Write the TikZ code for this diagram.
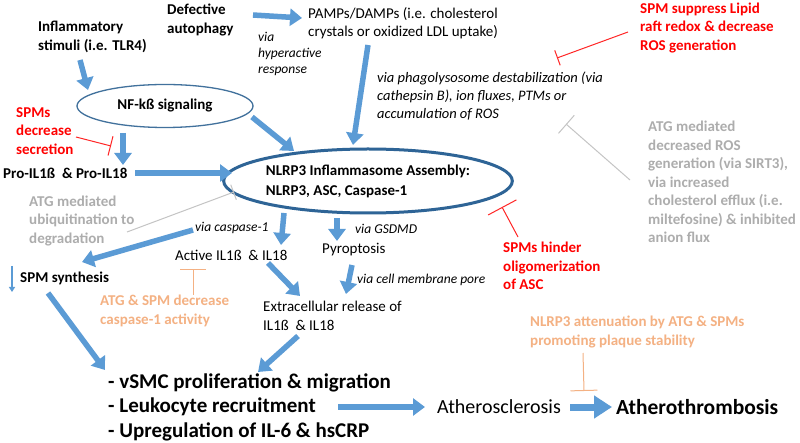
\documentclass[tikz,border=0pt]{standalone}
\usepackage{fontspec}
\setmainfont{Carlito}
\usetikzlibrary{arrows.meta,shapes.geometric,calc}
\definecolor{ablue}{HTML}{5B9BD5}
\definecolor{eblue}{HTML}{41719C}
\definecolor{dblue}{HTML}{2E6496}
\definecolor{ared}{HTML}{FF0000}
\definecolor{agray}{HTML}{ADADAD}
\definecolor{lgray}{HTML}{C4C4C4}
\definecolor{aorange}{HTML}{F4B183}
\tikzset{
  txt/.style={inner sep=0pt, align=left, anchor=west, font=\fontsize{15}{18.5}\selectfont},
  btxt/.style={txt, font=\fontsize{15}{18.5}\selectfont\bfseries},
  itxt/.style={txt, font=\fontsize{13.5}{16}\selectfont\itshape},
  barrow/.style={draw=ablue, line width=5.5pt, -{Triangle[length=12pt,width=17pt]}},
  bigarrow/.style={draw=ablue, line width=7pt, -{Triangle[length=18pt,width=22pt]}},
  thinarrow/.style={draw=ablue, line width=1.5pt, -{Triangle[length=5pt,width=6pt]}},
  inhib/.style={line width=1pt, -{Bar[width=#1]}},
}
\begin{document}
\begin{tikzpicture}[x=1pt,y=-1pt]
\useasboundingbox[fill=white] (0,0) rectangle (800,443);
% text nodes
\node[btxt] (infl) at (38,37) {Inflammatory\\stimuli (i.e. TLR4)};
\node[btxt] (defect) at (167,20) {Defective\\autophagy};
\node[txt] (pamps) at (308,23) {PAMPs/DAMPs (i.e. cholesterol\\crystals or oxidized LDL uptake)};
\node[itxt] (viahyp) at (258,54) {via\\hyperactive\\response};
\node[itxt, font=\fontsize{14.5}{18}\selectfont\itshape] (viaphago) at (377,96) {via phagolysosome destabilization (via\\cathepsin B), ion fluxes, PTMs or\\accumulation of ROS};
\node[btxt, text=ared] (spmlipid) at (640,28) {SPM suppress Lipid\\raft redox \& decrease\\ROS generation};
\node[btxt, text=agray] (atgros) at (648,182) {ATG mediated\\decreased ROS\\generation (via SIRT3),\\via increased\\cholesterol efflux (i.e.\\miltefosine) \& inhibited\\anion flux};
\node[ellipse, draw=eblue, line width=1.3pt, minimum width=176pt, minimum height=43pt, inner sep=0pt, font=\fontsize{15}{18}\selectfont\bfseries] (nfkb) at (165,106) {NF-kß signaling};
\node[ellipse, draw=dblue, line width=3pt, minimum width=270pt, minimum height=64pt, inner sep=0pt, align=left, font=\fontsize{15}{20}\selectfont\bfseries] (nlrp3) at (368,181) {NLRP3 Inflammasome Assembly:\\NLRP3, ASC, Caspase-1};
\node[btxt, text=ared] (spmsdec) at (16,131) {SPMs\\decrease\\secretion};
\node[btxt] (pro) at (3,173) {Pro-IL1ß\ \ \& Pro-IL18};
\node[btxt, text=agray] (atgubi) at (29,221) {ATG mediated\\ubiquitination to\\degradation};
\node[itxt] (viacasp) at (195,228) {via caspase-1};
\node[txt] (active) at (175,255) {Active IL1ß\ \ \& IL18};
\node[itxt] (viagsdmd) at (355,229) {via GSDMD};
\node[txt] (pyro) at (322,250) {Pyroptosis};
\node[itxt] (viapore) at (357,280) {via cell membrane pore};
\node[txt] (extra) at (263,316) {Extracellular release of\\IL1ß\ \ \& IL18};
\node[btxt] (spmsyn) at (20,278) {SPM synthesis};
\node[btxt, text=aorange] (atgcasp) at (100,311) {ATG \& SPM decrease\\caspase-1 activity};
\node[btxt, text=ared] (spmhinder) at (503,266) {SPMs hinder\\oligomerization\\of ASC};
\node[txt, font=\fontsize{21}{24.5}\selectfont\bfseries] (list) at (108,407) {- vSMC proliferation \& migration\\- Leukocyte recruitment\\- Upregulation of IL-6 \& hsCRP};
\node[txt, font=\fontsize{20}{22}\selectfont] (athero) at (437,407) {Atherosclerosis};
\node[txt, font=\fontsize{21.5}{24}\selectfont\bfseries] (thromb) at (616,407) {Atherothrombosis};
\node[btxt, text=aorange] (nlrp3att) at (530,332) {NLRP3 attenuation by ATG \& SPMs\\promoting plaque stability};
% blue arrows
\draw[barrow] ($(infl.west)+(42,23)$) -- ($(nfkb)+(-77,-16)$);
\draw[barrow] ($(defect.west)+(86,-5)$) -- ($(pamps.west)+(-6,-5)$);
\draw[barrow] ($(pamps.west)+(60,22)$) -- ($(nlrp3)+(-15,-36)$);
\draw[barrow] ($(nfkb)+(87,11)$) -- ($(nlrp3)+(-74,-30)$);
\draw[barrow] ($(nfkb)+(-42,27)$) -- ($(pro.west)+(120,-8)$);
\draw[barrow] ($(pro.west)+(132,0)$) -- ($(nlrp3)+(-136,-8)$);
\draw[barrow] ($(viacasp.west)+(-2,2)$) -- ($(spmsyn.west)+(62,-16)$);
\draw[barrow] ($(nlrp3)+(-84,32)$) -- ($(active.west)+(106,-10)$);
\draw[barrow] ($(nlrp3)+(-31,37)$) -- ($(pyro.west)+(15,-9)$);
\draw[barrow] ($(active.west)+(93,8)$) -- ($(extra.west)+(37,-20)$);
\draw[barrow] ($(pyro.west)+(30,15)$) -- ($(extra.west)+(83,-22)$);
\draw[barrow] ($(extra.west)+(35,20)$) -- ($(list.west)+(150,-35)$);
\draw[barrow] ($(spmsyn.west)+(28,15)$) -- ($(list.west)+(-3,-37)$);
\draw[barrow] ($(list.west)+(230,0)$) -- ($(athero.west)+(-12,0)$);
\draw[bigarrow] ($(athero.west)+(133,0)$) -- ($(thromb.west)+(-4,0)$);
\draw[thinarrow] ($(spmsyn.west)+(-8,-12)$) -- ($(spmsyn.west)+(-8,14)$);
% inhibitors
\draw[inhib=16pt, draw=ared!85] ($(spmlipid.west)+(-12,4)$) -- ($(viaphago.west)+(180,-38)$);
\draw[inhib=24pt, draw=lgray] ($(atgros.west)+(-18,-2)$) -- ($(viaphago.west)+(189,28)$);
\draw[inhib=20pt, draw=ared!85] ($(spmsdec.west)+(60,6)$) -- ($(pro.west)+(108,-27)$);
\draw[inhib=16pt, draw=lgray] ($(atgubi.west)+(98,11)$) -- ($(nlrp3)+(-134,11)$);
\draw[inhib=26pt, draw=aorange] ($(atgcasp.west)+(93,-16)$) -- ($(atgcasp.west)+(93,-42)$);
\draw[inhib=32pt, draw=ared!85] ($(spmhinder.west)+(15,-29)$) -- ($(nlrp3)+(134,26)$);
\draw[inhib=27pt, draw=aorange] ($(nlrp3att.west)+(53,21)$) -- ($(athero.west)+(147,-16)$);
\end{tikzpicture}
\end{document}
